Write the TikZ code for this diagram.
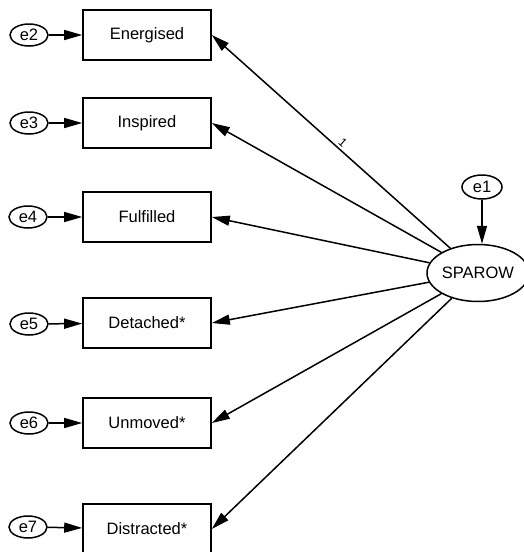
\documentclass[tikz,border=0pt]{standalone}
\usepackage{fontspec}
\setmainfont{Liberation Sans}
\usetikzlibrary{shapes.geometric,arrows.meta}
\begin{document}
\begin{tikzpicture}[x=1pt,y=-1pt,
  obs/.style={draw, line width=1.6pt, minimum width=128pt, minimum height=50pt, inner sep=0pt, font=\fontsize{16.5}{19}\selectfont},
  err/.style={draw, ellipse, line width=1.5pt, minimum width=38pt, minimum height=22pt, inner sep=0pt, font=\fontsize{16.5}{19}\selectfont},
  lat/.style={draw, ellipse, line width=1.5pt, minimum width=90pt, minimum height=57pt, inner sep=0pt, font=\fontsize{16.5}{19}\selectfont},
  arr/.style={line width=1.5pt, -{Triangle[length=18pt,width=10pt]}},
  lbl/.style={font=\fontsize{12}{14}\selectfont, inner sep=2pt}
]
\useasboundingbox (0,0) rectangle (523,552);
% observed variables
\node[obs] (en) at (147,35) {Energised};
\node[obs] (in) at (147,123) {Inspired};
\node[obs] (fu) at (147,217) {Fulfilled};
\node[obs] (de) at (147,323) {Detached*};
\node[obs] (un) at (147,423) {Unmoved*};
\node[obs] (di) at (147,529) {Distracted*};
% errors
\node[err] (e2) at (29,35) {e2};
\node[err] (e3) at (29,123) {e3};
\node[err] (e4) at (28,217) {e4};
\node[err] (e5) at (29,324) {e5};
\node[err] (e6) at (29,423) {e6};
\node[err] (e7) at (28,527) {e7};
% latent
\node[lat] (sp) at (478,273) {SPAROW};
\node[err, minimum width=40pt, minimum height=24pt] (e1) at (482,187) {e1};
% error arrows
\draw[arr] (e2) -- (en);
\draw[arr] (e3) -- (in);
\draw[arr] (e4) -- (fu);
\draw[arr] (e5) -- (de);
\draw[arr] (e6) -- (un);
\draw[arr] (e7) -- (di);
\draw[arr] (e1.south) -- (e1.south |- sp.north);
% loadings
\draw[arr] (sp) -- node[lbl, pos=0.47, sloped, above=0pt] {1} (en.east);
\draw[arr] (sp) -- (in.east);
\draw[arr] (sp) -- (fu.east);
\draw[arr] (sp) -- (de.east);
\draw[arr] (sp) -- (un.east);
\draw[arr] (sp) -- (di.east);
\end{tikzpicture}
\end{document}
